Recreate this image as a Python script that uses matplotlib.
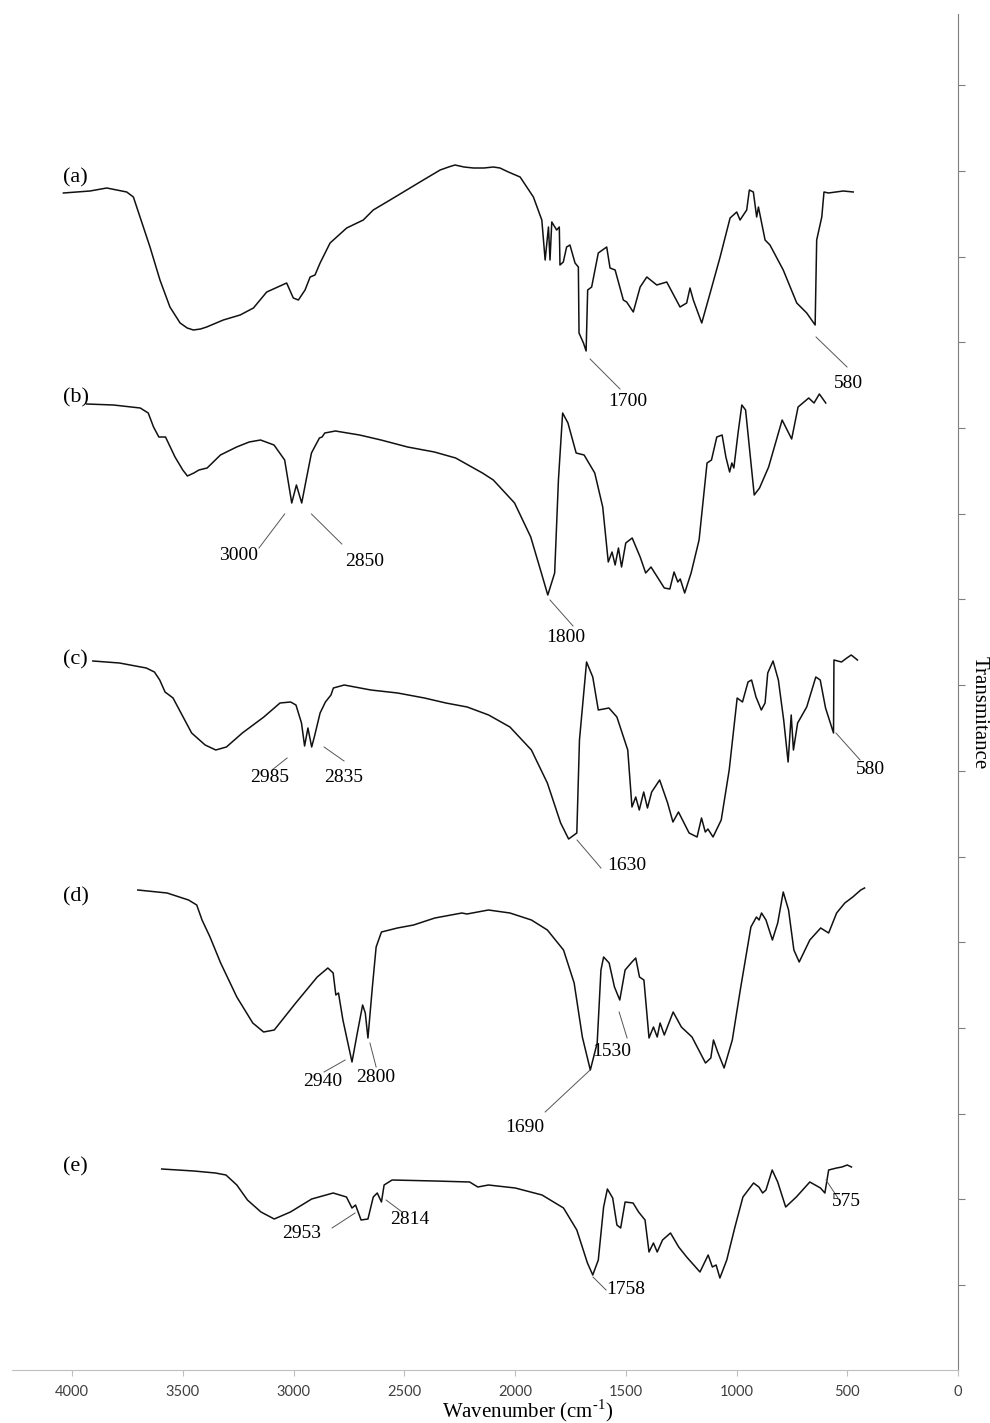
import numpy as np
import matplotlib
matplotlib.use("Agg")
import matplotlib.pyplot as plt

plt.rcParams["font.family"] = ["Liberation Serif", "DejaVu Serif"]
plt.rcParams["mathtext.fontset"] = "custom"
plt.rcParams["mathtext.rm"] = "Liberation Serif"

# spectra: wavenumber (cm-1) and transmittance (a.u., curves already stacked)
wn_a = [4039, 3919, 3843, 3753, 3723, 3693, 3648, 3603, 3558, 3512, 3480, 3452, 3420, 3392, 3317,
        3241, 3181, 3121, 3091, 3031, 3001, 2978, 2948, 2925, 2903, 2880, 2835, 2760, 2685, 2640,
        2564, 2489, 2414, 2338, 2300, 2271, 2230, 2188, 2140, 2098, 2068, 2030, 1977, 1917, 1879,
        1864, 1849, 1842, 1834, 1812, 1800, 1797, 1782, 1767, 1752, 1729, 1714, 1711, 1691, 1679,
        1672, 1654, 1624, 1586, 1571, 1548, 1511, 1496, 1466, 1435, 1405, 1360, 1315, 1255, 1225,
        1210, 1195, 1157, 1119, 1074, 1029, 999, 984, 954, 942, 924, 909, 901, 871, 849,
        789, 728, 683, 645, 638, 615, 605, 585, 518, 473]
tr_a = [1175, 1177, 1180, 1176, 1171, 1151, 1121, 1088, 1061, 1045, 1040, 1038, 1039, 1041, 1048,
        1053, 1060, 1076, 1079, 1085, 1070, 1068, 1078, 1091, 1093, 1105, 1125, 1140, 1148, 1158,
        1168, 1178, 1188, 1198, 1201, 1203, 1201, 1200, 1200, 1201, 1200, 1196, 1191, 1171, 1148,
        1108, 1141, 1108, 1146, 1138, 1141, 1103, 1106, 1121, 1123, 1105, 1101, 1035, 1025, 1017,
        1078, 1081, 1115, 1121, 1100, 1098, 1068, 1066, 1056, 1081, 1091, 1083, 1086, 1061, 1065,
        1080, 1068, 1045, 1075, 1111, 1150, 1156, 1148, 1158, 1178, 1176, 1151, 1161, 1128, 1123,
        1098, 1065, 1055, 1043, 1128, 1151, 1176, 1175, 1177, 1176]

wn_b = [3934, 3813, 3692, 3656, 3632, 3608, 3578, 3535, 3500, 3479, 3450, 3427, 3390, 3330, 3257,
        3200, 3149, 3088, 3040, 3008, 2987, 2963, 2943, 2919, 2900, 2883, 2871, 2859, 2811, 2702,
        2605, 2485, 2364, 2268, 2147, 2098, 2002, 1929, 1881, 1852, 1821, 1804, 1785, 1761, 1724,
        1688, 1640, 1604, 1579, 1562, 1548, 1533, 1519, 1500, 1471, 1435, 1410, 1386, 1326, 1301,
        1282, 1265, 1254, 1234, 1205, 1169, 1133, 1113, 1089, 1065, 1048, 1031, 1021, 1012, 993,
        976, 959, 920, 896, 855, 794, 751, 722, 674, 650, 626, 597]
tr_b = [964, 963, 960, 955, 941, 931, 931, 911, 898, 892, 895, 898, 900, 913, 921,
        926, 928, 923, 908, 865, 883, 865, 888, 915, 923, 930, 931, 935, 937, 933,
        928, 921, 916, 910, 895, 888, 865, 831, 795, 773, 795, 888, 955, 945, 915,
        913, 895, 861, 806, 816, 803, 820, 801, 825, 830, 811, 795, 801, 780, 779,
        796, 786, 789, 775, 795, 828, 905, 908, 931, 933, 911, 896, 905, 900, 935,
        963, 958, 873, 880, 901, 948, 929, 961, 970, 965, 974, 965]

wn_c = [3906, 3786, 3665, 3628, 3604, 3580, 3544, 3508, 3460, 3399, 3351, 3303, 3231, 3134, 3061,
        3013, 2989, 2964, 2950, 2935, 2918, 2905, 2880, 2856, 2831, 2820, 2771, 2651, 2530, 2409,
        2312, 2216, 2119, 2023, 1926, 1854, 1794, 1758, 1721, 1709, 1677, 1649, 1624, 1576, 1540,
        1491, 1472, 1455, 1439, 1419, 1402, 1383, 1347, 1311, 1287, 1262, 1214, 1178, 1158, 1141,
        1129, 1106, 1069, 1033, 997, 973, 948, 932, 912, 888, 871, 859, 835, 811, 787,
        767, 753, 743, 724, 683, 642, 622, 598, 562, 560, 526, 502, 482, 454]
tr_c = [707, 705, 700, 696, 688, 676, 670, 655, 635, 623, 618, 621, 635, 651, 665,
        666, 663, 645, 622, 640, 621, 632, 655, 666, 673, 680, 683, 678, 675, 670,
        665, 661, 653, 641, 618, 585, 545, 529, 535, 628, 706, 691, 658, 660, 651,
        618, 561, 571, 558, 576, 560, 576, 588, 565, 546, 556, 535, 531, 550, 536,
        539, 531, 548, 598, 670, 666, 686, 688, 671, 658, 665, 695, 707, 688, 648,
        606, 653, 618, 645, 661, 691, 688, 660, 635, 708, 706, 710, 713, 708]

wn_d = [3703, 3571, 3474, 3437, 3413, 3377, 3329, 3256, 3184, 3135, 3087, 2990, 2893, 2845, 2821,
        2809, 2797, 2777, 2736, 2712, 2688, 2676, 2664, 2644, 2627, 2603, 2531, 2458, 2362, 2240,
        2217, 2120, 2023, 1926, 1854, 1781, 1733, 1696, 1660, 1629, 1612, 1600, 1575, 1551, 1527,
        1503, 1472, 1455, 1438, 1418, 1395, 1375, 1358, 1345, 1326, 1286, 1249, 1201, 1140, 1116,
        1104, 1085, 1056, 1019, 983, 935, 910, 898, 887, 867, 838, 814, 789, 765, 741,
        717, 669, 620, 584, 548, 511, 475, 439, 422]
tr_d = [478, 475, 468, 463, 448, 431, 405, 371, 345, 336, 338, 365, 391, 400, 395,
        373, 375, 348, 306, 335, 363, 355, 330, 381, 421, 436, 440, 443, 450, 455,
        454, 458, 455, 448, 438, 418, 385, 331, 298, 325, 398, 411, 405, 381, 368,
        398, 406, 410, 391, 388, 330, 341, 331, 345, 333, 356, 341, 331, 305, 310,
        328, 316, 300, 328, 378, 441, 451, 448, 455, 448, 428, 445, 476, 458, 418,
        406, 428, 440, 435, 455, 465, 471, 478, 480]

wn_e = [3595, 3450, 3353, 3305, 3256, 3208, 3147, 3087, 3014, 2918, 2821, 2761, 2736, 2720, 2695,
        2664, 2640, 2622, 2603, 2591, 2555, 2362, 2205, 2168, 2120, 1999, 1878, 1781, 1721, 1673,
        1649, 1624, 1600, 1583, 1559, 1540, 1523, 1503, 1467, 1442, 1413, 1395, 1375, 1358, 1334,
        1298, 1261, 1225, 1165, 1128, 1109, 1092, 1075, 1044, 1007, 971, 923, 899, 882, 867,
        839, 814, 778, 754, 730, 669, 621, 601, 584, 548, 524, 500, 481]
tr_e = [199, 197, 195, 193, 183, 168, 156, 149, 156, 169, 175, 171, 160, 163, 148,
        149, 171, 175, 166, 183, 188, 187, 186, 181, 183, 180, 173, 160, 138, 105,
        93, 108, 161, 179, 170, 143, 140, 166, 165, 156, 148, 116, 125, 116, 128,
        135, 121, 111, 96, 113, 101, 103, 90, 108, 141, 171, 185, 181, 175, 178,
        198, 186, 161, 166, 171, 186, 180, 175, 198, 200, 201, 203, 201]

panel_names = ["(a)", "(b)", "(c)", "(d)", "(e)"]
x_ticks = [4000, 3500, 3000, 2500, 2000, 1500, 1000, 500, 0]

# where the panel names sit (data units)
panel_name_pos = [(4041, 1190), (4041, 970), (4041, 708), (4041, 471), (4041, 201)]

# peak labels: text, leader line (x0, y0, x1, y1), text position
peak_labels = [
    ("1700", (1661, 1009, 1526, 979), (1490, 966)),
    ("580", (641, 1031, 501, 1001), (496, 984)),
    ("3000", (3040, 854, 3156, 820), (3246, 813)),
    ("2850", (2919, 854, 2782, 824), (2677, 806)),
    ("1800", (1842, 768, 1738, 742), (1770, 731)),
    ("2985", (3029, 610, 3097, 598), (3110, 591)),
    ("2835", (2862, 621, 2772, 607), (2776, 591)),
    ("1630", (1720, 528, 1612, 500), (1494, 503)),
    ("580", (551, 635, 442, 608), (397, 598)),
    ("2940", (2767, 308, 2862, 296), (2867, 287)),
    ("2800", (2655, 325, 2627, 301), (2627, 291)),
    ("1530", (1530, 356, 1494, 330), (1563, 316)),
    ("1690", (1661, 298, 1864, 256), (1955, 241)),
    ("2953", (2722, 155, 2826, 140), (2962, 134)),
    ("2814", (2582, 168, 2510, 156), (2474, 148)),
    ("1758", (1648, 91, 1589, 78), (1500, 78)),
    ("575", (596, 188, 542, 170), (505, 166)),
]

fig = plt.figure(figsize=(9.9, 14.23), dpi=100)
ax = fig.add_axes([12 / 990, 1 - 1370 / 1423, (958 - 12) / 990, (1370 - 14) / 1423])

spectra = [(wn_a, tr_a), (wn_b, tr_b), (wn_c, tr_c), (wn_d, tr_d), (wn_e, tr_e)]
for (wn, tr), name, (nx, ny) in zip(spectra, panel_names, panel_name_pos):
    ax.plot(wn, tr, color="#111111", lw=1.1)
    ax.text(nx, ny, name, fontsize=16, ha="left", va="center")

for txt, (x0, y0, x1, y1), (tx, ty) in peak_labels:
    ax.plot([x0, x1], [y0, y1], color="#555555", lw=0.7)
    ax.text(tx, ty, txt, fontsize=14, ha="center", va="center")

ax.set_xlim(4271, 0)
ax.set_ylim(-2, 1354)
ax.set_xticks(x_ticks)
ax.set_xticklabels([str(t) for t in x_ticks], family="Lato", fontsize=10.5, color="#404040")
ax.tick_params(axis="x", length=4, color="#bfbfbf", pad=7)
ax.yaxis.tick_right()
ax.set_yticks(np.arange(83, 1300, 85.7))
ax.tick_params(axis="y", direction="out", length=5, color="#7f7f7f", labelright=False)
for s in ["left", "top"]:
    ax.spines[s].set_visible(False)
ax.spines["bottom"].set_color("#bfbfbf")
ax.spines["right"].set_color("#7f7f7f")

fig.text(528 / 990, 1 - 1411 / 1423, "Wavenumber (cm$^{\\text{-1}}$)", fontsize=15,
         ha="center", va="center")
fig.text(979 / 990, 1 - 713 / 1423, "Transmitance", fontsize=15, rotation=-90,
         ha="center", va="center")

fig.savefig("out.png", dpi=100, facecolor="white")
